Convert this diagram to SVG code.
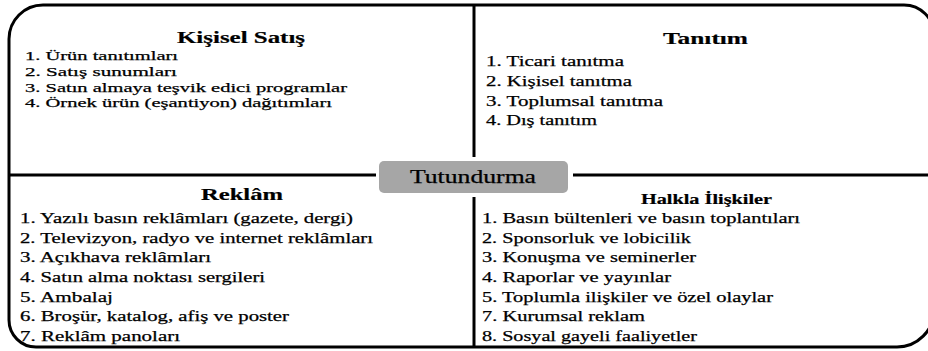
<svg xmlns="http://www.w3.org/2000/svg" width="928" height="351" viewBox="0 0 928 351" font-family="'Liberation Serif', 'Times New Roman', serif">
<style>
  text { fill: #000; stroke: #000; stroke-width: 0.25px; }
  .title { font-weight: bold; stroke-width: 0.2px; }
  .it { font-size: 14.5px; }
  .its { font-size: 13.2px; }
  .line { fill: none; stroke: #000; stroke-width: 3; }
</style>
<rect width="928" height="351" fill="#fff"/>
<g id="frame">
  <path class="line" d="M 43 5 H 904 A 30 30 0 0 1 934 35 V 310 A 37 37 0 0 1 897 347 H 36 A 27 27 0 0 1 9 320 V 39 A 34 34 0 0 1 43 5 Z"/>
</g>
<g id="connectors">
  <line class="line" x1="474" y1="5" x2="474" y2="157" stroke-width="3.5"/>
  <line class="line" x1="474" y1="197" x2="474" y2="347" stroke-width="3.5"/>
  <line class="line" x1="9" y1="175" x2="376" y2="175"/>
  <line class="line" x1="573" y1="175" x2="934" y2="175"/>
</g>
<g id="kisisel-satis">
  <text class="title" x="177" y="43" font-size="17" textLength="128" lengthAdjust="spacingAndGlyphs">Kişisel Satış</text>
  <text class="its" x="25" y="60" textLength="153" lengthAdjust="spacingAndGlyphs">1. Ürün tanıtımları</text>
  <text class="its" x="25" y="76" textLength="152" lengthAdjust="spacingAndGlyphs">2. Satış sunumları</text>
  <text class="its" x="25" y="91.5" textLength="322" lengthAdjust="spacingAndGlyphs">3. Satın almaya teşvik edici programlar</text>
  <text class="its" x="25" y="107" textLength="307" lengthAdjust="spacingAndGlyphs">4. Örnek ürün (eşantiyon) dağıtımları</text>
</g>
<g id="tanitim">
  <text class="title" x="663" y="44" font-size="17.5" textLength="85" lengthAdjust="spacingAndGlyphs">Tanıtım</text>
  <text class="it" x="486" y="66" textLength="138" lengthAdjust="spacingAndGlyphs">1. Ticari tanıtma</text>
  <text class="it" x="486" y="86" textLength="146" lengthAdjust="spacingAndGlyphs">2. Kişisel tanıtma</text>
  <text class="it" x="486" y="105.5" textLength="177" lengthAdjust="spacingAndGlyphs">3. Toplumsal tanıtma</text>
  <text class="it" x="486" y="124.5" textLength="111" lengthAdjust="spacingAndGlyphs">4. Dış tanıtım</text>
</g>
<g id="reklam">
  <text class="title" x="201" y="200" font-size="17.5" textLength="82" lengthAdjust="spacingAndGlyphs">Reklâm</text>
  <text class="it" x="20" y="223" textLength="333" lengthAdjust="spacingAndGlyphs">1. Yazılı basın reklâmları (gazete, dergi)</text>
  <text class="it" x="20" y="242.5" textLength="353" lengthAdjust="spacingAndGlyphs">2. Televizyon, radyo ve internet reklâmları</text>
  <text class="it" x="20" y="262" textLength="191" lengthAdjust="spacingAndGlyphs">3. Açıkhava reklâmları</text>
  <text class="it" x="20" y="282" textLength="245" lengthAdjust="spacingAndGlyphs">4. Satın alma noktası sergileri</text>
  <text class="it" x="20" y="301.5" textLength="93" lengthAdjust="spacingAndGlyphs">5. Ambalaj</text>
  <text class="it" x="20" y="321" textLength="269" lengthAdjust="spacingAndGlyphs">6. Broşür, katalog, afiş ve poster</text>
  <text class="it" x="20" y="341" textLength="160" lengthAdjust="spacingAndGlyphs">7. Reklâm panoları</text>
</g>
<g id="halkla-iliskiler">
  <text class="title" x="641" y="203.5" font-size="14" textLength="131" lengthAdjust="spacingAndGlyphs">Halkla İlişkiler</text>
  <text class="it" x="482" y="223" textLength="318" lengthAdjust="spacingAndGlyphs">1. Basın bültenleri ve basın toplantıları</text>
  <text class="it" x="482" y="242.5" textLength="209" lengthAdjust="spacingAndGlyphs">2. Sponsorluk ve lobicilik</text>
  <text class="it" x="482" y="262" textLength="214" lengthAdjust="spacingAndGlyphs">3. Konuşma ve seminerler</text>
  <text class="it" x="482" y="282" textLength="189" lengthAdjust="spacingAndGlyphs">4. Raporlar ve yayınlar</text>
  <text class="it" x="482" y="301.5" textLength="291" lengthAdjust="spacingAndGlyphs">5. Toplumla ilişkiler ve özel olaylar</text>
  <text class="it" x="482" y="321" textLength="163" lengthAdjust="spacingAndGlyphs">7. Kurumsal reklam</text>
  <text class="it" x="482" y="341" textLength="215" lengthAdjust="spacingAndGlyphs">8. Sosyal gayeli faaliyetler</text>
</g>
<g id="tutundurma">
  <rect x="379" y="161" width="189" height="32" rx="5" fill="#a6a6a6"/>
  <text x="410" y="183" font-size="18.5" textLength="126" lengthAdjust="spacingAndGlyphs" fill="#111" stroke="#111">Tutundurma</text>
</g>
</svg>
